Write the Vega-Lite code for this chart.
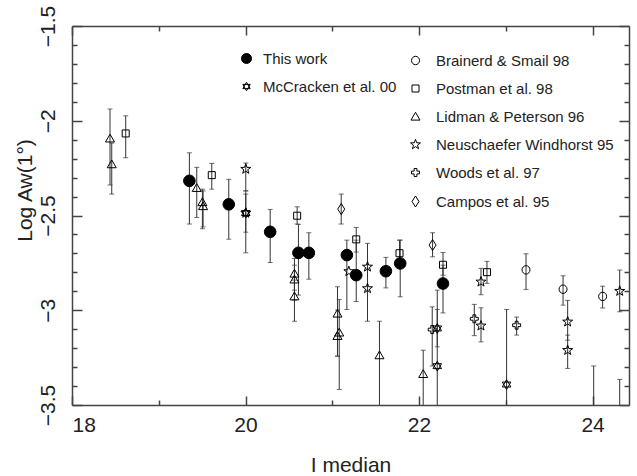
{
  "$schema": "https://vega.github.io/schema/vega-lite/v6.json",
  "width": 557,
  "height": 379,
  "autosize": "none",
  "padding": {"left": 72, "top": 26, "right": 8, "bottom": 71},
  "background": "white",
  "config": {
    "view": {"stroke": null},
    "font": "Liberation Sans",
    "axis": {
      "grid": false,
      "domainColor": "#444",
      "domainWidth": 1.5,
      "tickColor": "#444",
      "tickWidth": 1.5,
      "labelFont": "Liberation Sans",
      "labelColor": "#222",
      "labelFontSize": 21,
      "titleFont": "Liberation Sans",
      "titleColor": "#222",
      "titleFontSize": 21,
      "titleFontWeight": "normal"
    },
    "legend": {
      "labelFont": "Liberation Sans",
      "labelFontSize": 15,
      "labelColor": "#222",
      "labelLimit": 0,
      "rowPadding": 12,
      "padding": 0,
      "symbolStrokeWidth": 1,
      "symbolStrokeColor": "black"
    }
  },
  "data": {
    "values": [
      {"series": "This work", "x": 19.353, "y": -2.317, "lo": -2.169, "hi": -2.545},
      {"series": "This work", "x": 19.807, "y": -2.441, "lo": -2.309, "hi": -2.625},
      {"series": "This work", "x": 20.284, "y": -2.586, "lo": -2.468, "hi": -2.748},
      {"series": "This work", "x": 20.610, "y": -2.697, "lo": -2.547, "hi": -2.920},
      {"series": "This work", "x": 20.730, "y": -2.697, "lo": -2.591, "hi": -2.836},
      {"series": "This work", "x": 21.168, "y": -2.709, "lo": -2.630, "hi": -2.996},
      {"series": "This work", "x": 21.276, "y": -2.815, "lo": -2.630, "hi": -2.954},
      {"series": "This work", "x": 21.618, "y": -2.794, "lo": -2.721, "hi": -2.882},
      {"series": "This work", "x": 21.783, "y": -2.753, "lo": -2.630, "hi": -2.929},
      {"series": "This work", "x": 22.276, "y": -2.859, "lo": -2.762, "hi": -3.014},
      {"series": "McCracken et al. 00", "x": 20.003, "y": -2.487, "lo": -2.370, "hi": -2.697},
      {"series": "McCracken et al. 00", "x": 22.210, "y": -3.096, "lo": -2.996, "hi": -3.193},
      {"series": "McCracken et al. 00", "x": 22.210, "y": -3.295, "lo": -2.894, "hi": -3.6},
      {"series": "McCracken et al. 00", "x": 23.009, "y": -3.392, "lo": -2.996, "hi": -3.6},
      {"series": "Brainerd & Smail 98", "x": 23.233, "y": -2.787, "lo": -2.702, "hi": -2.890},
      {"series": "Brainerd & Smail 98", "x": 23.660, "y": -2.889, "lo": -2.818, "hi": -2.973},
      {"series": "Brainerd & Smail 98", "x": 24.116, "y": -2.927, "lo": -2.873, "hi": -2.988},
      {"series": "Postman et al. 98", "x": 18.619, "y": -2.067, "lo": -1.974, "hi": -2.195},
      {"series": "Postman et al. 98", "x": 19.611, "y": -2.287, "lo": -2.225, "hi": -2.361},
      {"series": "Postman et al. 98", "x": 20.595, "y": -2.501, "lo": -2.454, "hi": -2.545},
      {"series": "Postman et al. 98", "x": 21.276, "y": -2.626, "lo": -2.563, "hi": -2.693},
      {"series": "Postman et al. 98", "x": 21.775, "y": -2.699, "lo": -2.630, "hi": -2.751},
      {"series": "Postman et al. 98", "x": 22.276, "y": -2.760, "lo": -2.695, "hi": -2.815},
      {"series": "Postman et al. 98", "x": 22.783, "y": -2.799, "lo": -2.742, "hi": -2.858},
      {"series": "Lidman & Peterson 96", "x": 18.438, "y": -2.093, "lo": -1.938, "hi": -2.339},
      {"series": "Lidman & Peterson 96", "x": 18.458, "y": -2.229, "lo": -2.118, "hi": -2.387},
      {"series": "Lidman & Peterson 96", "x": 19.438, "y": -2.354, "lo": -2.246, "hi": -2.510},
      {"series": "Lidman & Peterson 96", "x": 19.503, "y": -2.429, "lo": -2.361, "hi": -2.570},
      {"series": "Lidman & Peterson 96", "x": 19.511, "y": -2.450, "lo": -2.370, "hi": -2.560},
      {"series": "Lidman & Peterson 96", "x": 20.564, "y": -2.806, "lo": -2.727, "hi": -2.894},
      {"series": "Lidman & Peterson 96", "x": 20.564, "y": -2.837, "lo": -2.762, "hi": -2.947},
      {"series": "Lidman & Peterson 96", "x": 20.564, "y": -2.926, "lo": -2.841, "hi": -3.058},
      {"series": "Lidman & Peterson 96", "x": 21.060, "y": -3.017, "lo": -2.876, "hi": -3.242},
      {"series": "Lidman & Peterson 96", "x": 21.080, "y": -3.117, "lo": -2.943, "hi": -3.418},
      {"series": "Lidman & Peterson 96", "x": 21.060, "y": -3.135, "lo": -2.999, "hi": -3.242},
      {"series": "Lidman & Peterson 96", "x": 21.544, "y": -3.237, "lo": -3.058, "hi": -3.6},
      {"series": "Lidman & Peterson 96", "x": 22.048, "y": -3.336, "lo": -3.211, "hi": -3.6},
      {"series": "Neuschaefer Windhorst 95", "x": 20.003, "y": -2.255, "lo": -2.223, "hi": -2.370},
      {"series": "Neuschaefer Windhorst 95", "x": 20.003, "y": -2.487, "lo": -2.387, "hi": -2.588},
      {"series": "Neuschaefer Windhorst 95", "x": 21.191, "y": -2.795, "lo": null, "hi": null},
      {"series": "Neuschaefer Windhorst 95", "x": 21.406, "y": -2.771, "lo": -2.647, "hi": -2.894},
      {"series": "Neuschaefer Windhorst 95", "x": 21.406, "y": -2.885, "lo": -2.778, "hi": -3.058},
      {"series": "Neuschaefer Windhorst 95", "x": 22.714, "y": -2.850, "lo": -2.779, "hi": -2.918},
      {"series": "Neuschaefer Windhorst 95", "x": 22.714, "y": -3.082, "lo": -2.987, "hi": -3.167},
      {"series": "Neuschaefer Windhorst 95", "x": 23.713, "y": -3.061, "lo": -2.948, "hi": -3.158},
      {"series": "Neuschaefer Windhorst 95", "x": 23.713, "y": -3.211, "lo": -3.131, "hi": -3.307},
      {"series": "Neuschaefer Windhorst 95", "x": 24.313, "y": -2.899, "lo": -2.788, "hi": -3.008},
      {"series": "Neuschaefer Windhorst 95", "x": 24.013, "y": null, "lo": -3.294, "hi": -3.6},
      {"series": "Neuschaefer Windhorst 95", "x": 24.313, "y": null, "lo": -3.365, "hi": -3.6},
      {"series": "Woods et al. 97", "x": 22.152, "y": -3.102, "lo": -2.982, "hi": -3.294},
      {"series": "Woods et al. 97", "x": 22.637, "y": -3.045, "lo": -2.969, "hi": -3.134},
      {"series": "Woods et al. 97", "x": 23.125, "y": -3.079, "lo": -3.036, "hi": -3.131},
      {"series": "Campos et al. 95", "x": 21.103, "y": -2.466, "lo": -2.387, "hi": -2.545},
      {"series": "Campos et al. 95", "x": 22.156, "y": -2.656, "lo": -2.591, "hi": -2.718}
    ]
  },
  "layer": [
    {
      "mark": {"type": "rule", "color": "#333", "strokeWidth": 1, "clip": true},
      "encoding": {
        "x": {"field": "x", "type": "quantitative",
              "scale": {"domain": [18, 24.42], "nice": false, "zero": false},
              "axis": {"orient": "bottom", "values": [18, 20, 22, 24], "ticks": false, "labelPadding": 9, "title": "I median", "titleY": 60, "titleBaseline": "middle"}},
        "y": {"field": "lo", "type": "quantitative",
              "scale": {"domain": [-3.5, -1.5], "nice": false, "zero": false},
              "axis": {"orient": "left", "values": [-3.5, -3, -2.5, -2, -1.5], "format": "~g", "ticks": false, "labelAngle": 270, "labelAlign": "center", "labelBaseline": "bottom", "labelPadding": 14, "title": "Log Aw(1°)", "titleX": -47, "titleY": 164, "titleAngle": 270, "titleBaseline": "middle", "titleAlign": "center"}},
        "y2": {"field": "hi"}
      }
    },
    {
      "mark": {"type": "tick", "orient": "horizontal", "color": "#333", "size": 5, "thickness": 1, "clip": true},
      "encoding": {
        "x": {"field": "x", "type": "quantitative",
              "axis": {"orient": "bottom", "values": [18, 19, 20, 21, 22, 23, 24], "labels": false, "domain": false, "title": null,
                       "tickSize": {"condition": {"test": "datum.value % 2 === 0", "value": -9}, "value": -5}}},
        "y": {"field": "lo", "type": "quantitative",
              "axis": {"orient": "left", "values": [-3.5, -3.4, -3.3, -3.2, -3.1, -3.0, -2.9, -2.8, -2.7, -2.6, -2.5, -2.4, -2.3, -2.2, -2.1, -2.0, -1.9, -1.8, -1.7, -1.6, -1.5], "labels": false, "domain": false, "title": null,
                       "tickSize": {"condition": {"test": "abs(datum.value*2 - round(datum.value*2)) < 0.01", "value": -10}, "value": -5}}}
      }
    },
    {
      "mark": {"type": "tick", "orient": "horizontal", "color": "#333", "size": 5, "thickness": 1, "clip": true},
      "encoding": {
        "x": {"field": "x", "type": "quantitative",
              "axis": {"orient": "top", "values": [18, 19, 20, 21, 22, 23, 24], "labels": false, "title": null,
                       "tickSize": {"condition": {"test": "datum.value % 2 === 0", "value": -9}, "value": -5}}},
        "y": {"field": "hi", "type": "quantitative",
              "axis": {"orient": "right", "values": [-3.5, -3.4, -3.3, -3.2, -3.1, -3.0, -2.9, -2.8, -2.7, -2.6, -2.5, -2.4, -2.3, -2.2, -2.1, -2.0, -1.9, -1.8, -1.7, -1.6, -1.5], "labels": false, "title": null,
                       "tickSize": {"condition": {"test": "abs(datum.value*2 - round(datum.value*2)) < 0.01", "value": -10}, "value": -5}}}
      }
    },
    {
      "transform": [{"filter": {"field": "series", "oneOf": ["This work", "McCracken et al. 00"]}}],
      "mark": {"type": "point", "strokeWidth": 1, "opacity": 1, "filled": true, "size": 135, "clip": true},
      "encoding": {
        "x": {"field": "x", "type": "quantitative", "axis": null},
        "y": {"field": "y", "type": "quantitative", "axis": null},
        "shape": {"field": "series", "type": "nominal",
                  "scale": {"domain": ["This work", "McCracken et al. 00"], "range": ["circle", "M0,-0.85L0.736,0.425L-0.736,0.425Z M0,0.85L0.736,-0.425L-0.736,-0.425Z"]},
                  "legend": {"title": null, "orient": "none", "legendX": 167, "legendY": 25, "labelOffset": 9}},
        "fill": {"field": "series", "type": "nominal",
                 "scale": {"domain": ["This work", "McCracken et al. 00"], "range": ["black", "transparent"]},
                 "legend": {"title": null, "orient": "none", "legendX": 167, "legendY": 25, "labelOffset": 9}},
        "stroke": {"field": "series", "type": "nominal",
                 "scale": {"domain": ["This work", "McCracken et al. 00"], "range": ["black", "black"]},
                 "legend": {"title": null, "orient": "none", "legendX": 167, "legendY": 25, "labelOffset": 9}}
      }
    },
    {
      "transform": [{"filter": {"not": {"field": "series", "oneOf": ["This work", "McCracken et al. 00"]}}}],
      "mark": {"type": "point", "color": "black", "strokeWidth": 1, "opacity": 1, "filled": false, "size": 196, "clip": true},
      "encoding": {
        "x": {"field": "x", "type": "quantitative", "axis": null},
        "y": {"field": "y", "type": "quantitative", "axis": null},
        "shape": {"field": "series", "type": "nominal",
                  "scale": {"domain": ["Brainerd & Smail 98", "Postman et al. 98", "Lidman & Peterson 96", "Neuschaefer Windhorst 95", "Woods et al. 97", "Campos et al. 95"],
                            "range": [
                              "M-0.57,0A0.57,0.6 0 1,0 0.57,0A0.57,0.6 0 1,0 -0.57,0Z",
                              "M-0.5,-0.5H0.5V0.5H-0.5Z",
                              "M0,-0.6L0.643,0.514L-0.643,0.514Z",
                              "M0,-0.75L0.176,-0.243L0.713,-0.232L0.285,0.093L0.441,0.607L0,0.3L-0.441,0.607L-0.285,0.093L-0.713,-0.232L-0.176,-0.243Z",
                              "M-0.2,-0.57H0.2V-0.2H0.57V0.2H0.2V0.57H-0.2V0.2H-0.57V-0.2H-0.2Z",
                              "M0,-0.786L0.5,0L0,0.786L-0.5,0Z"
                            ]},
                  "legend": {"title": null, "orient": "none", "legendX": 336, "legendY": 27, "labelOffset": 13, "symbolSize": 196}}
      }
    }
  ],
  "resolve": {
    "scale": {"shape": "independent", "fill": "independent", "stroke": "independent"},
    "axis": {"x": "independent", "y": "independent"}
  }
}
